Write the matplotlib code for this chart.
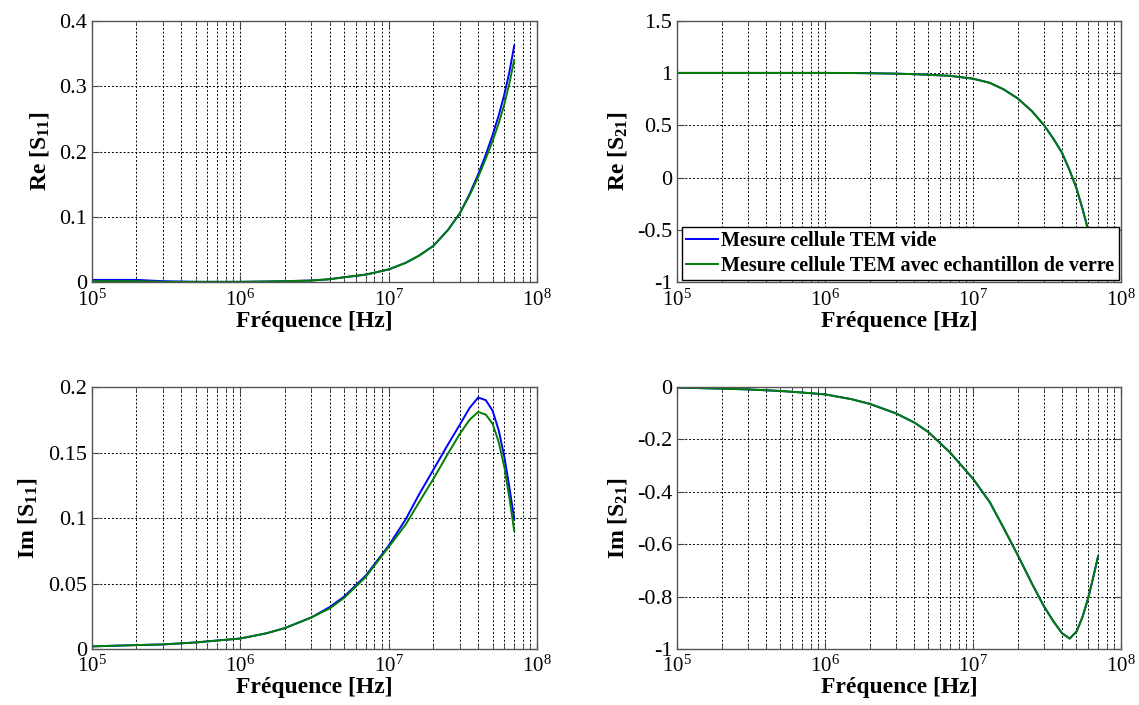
import numpy as np
import matplotlib
matplotlib.use("Agg")
import matplotlib.pyplot as plt
from matplotlib.ticker import LogLocator, NullFormatter

plt.rcParams['font.family'] = ['Liberation Serif', 'DejaVu Serif']
plt.rcParams['mathtext.fontset'] = 'custom'
plt.rcParams['mathtext.rm'] = 'Liberation Serif'
plt.rcParams['mathtext.it'] = 'Liberation Serif:italic'
plt.rcParams['mathtext.bf'] = 'Liberation Serif:bold'

# frequency points (Hz)
freq = [1e5, 2e5, 3e5, 5e5, 7e5, 1e6, 1.5e6, 2e6, 3e6, 4e6, 5e6, 7e6, 1e7,
        1.3e7, 1.6e7, 2e7, 2.5e7, 3e7, 3.5e7, 4e7, 4.5e7, 5e7, 5.5e7, 6e7,
        6.5e7, 7e7]

# Re[S11]
re_s11_vide = [0.004, 0.004, 0.002, 0.001, 0.001, 0.001, 0.0015, 0.002, 0.003,
               0.005, 0.008, 0.012, 0.02, 0.03, 0.041, 0.056, 0.08, 0.105,
               0.135, 0.165, 0.195, 0.225, 0.255, 0.287, 0.322, 0.362]
re_s11_verre = [0.002, 0.002, 0.001, 0.001, 0.001, 0.001, 0.0015, 0.002, 0.003,
                0.005, 0.008, 0.012, 0.02, 0.03, 0.041, 0.056, 0.08, 0.105,
                0.133, 0.161, 0.189, 0.216, 0.243, 0.272, 0.305, 0.34]

# Im[S11]
im_s11_vide = [0.002, 0.003, 0.0035, 0.005, 0.0065, 0.008, 0.012, 0.016, 0.024,
               0.032, 0.04, 0.056, 0.079, 0.099, 0.118, 0.137, 0.156, 0.171,
               0.184, 0.192, 0.19, 0.182, 0.167, 0.147, 0.123, 0.099]
im_s11_verre = [0.002, 0.003, 0.0035, 0.005, 0.0065, 0.008, 0.012, 0.016, 0.024,
                0.031, 0.039, 0.055, 0.078, 0.095, 0.112, 0.13, 0.149, 0.164,
                0.175, 0.181, 0.179, 0.172, 0.158, 0.139, 0.115, 0.09]

# Re[S21]
re_s21_vide = [1.0, 1.0, 1.0, 1.0, 1.0, 1.0, 0.999, 0.997, 0.993, 0.988, 0.982,
               0.972, 0.945, 0.905, 0.845, 0.758, 0.635, 0.506, 0.37, 0.236, 0.07,
               -0.1, -0.3, -0.5, -0.68, -0.85]
re_s21_verre = [1.0, 1.0, 1.0, 1.0, 1.0, 1.0, 0.999, 0.997, 0.993, 0.988, 0.982,
                0.972, 0.945, 0.905, 0.845, 0.758, 0.635, 0.506, 0.37, 0.236, 0.07,
                -0.1, -0.3, -0.5, -0.68, -0.85]

# Im[S21]
im_s21_vide = [-0.002, -0.006, -0.009, -0.015, -0.021, -0.028, -0.046, -0.064,
               -0.1, -0.135, -0.172, -0.25, -0.35, -0.44, -0.535, -0.64, -0.75,
               -0.835, -0.895, -0.94, -0.96, -0.934, -0.877, -0.806, -0.725, -0.646]
im_s21_verre = [-0.002, -0.006, -0.009, -0.015, -0.021, -0.028, -0.046, -0.064,
                -0.1, -0.135, -0.172, -0.25, -0.35, -0.44, -0.535, -0.64, -0.75,
                -0.835, -0.895, -0.94, -0.96, -0.934, -0.877, -0.806, -0.725, -0.646]

label_vide = "Mesure cellule TEM vide"
label_verre = "Mesure cellule TEM avec echantillon de verre"


def style_axis(ax, ylim, yticks, yticklabels, ylabel):
    ax.set_xscale('log')
    ax.set_xlim(1e5, 1e8)
    ax.set_ylim(*ylim)
    ax.set_yticks(yticks)
    ax.set_yticklabels(yticklabels)
    ax.xaxis.set_major_locator(LogLocator(base=10, numticks=10))
    ax.xaxis.set_minor_locator(LogLocator(base=10, subs=np.arange(2, 10), numticks=100))
    ax.xaxis.set_minor_formatter(NullFormatter())
    ax.grid(True, which='major', color='black', linestyle=(0, (2, 2)), linewidth=0.7)
    ax.grid(True, which='minor', axis='x', color='black', linestyle=(0, (2, 2)), linewidth=0.7)
    ax.tick_params(which='both', direction='in', top=True, right=True,
                   color='#444444')
    ax.tick_params(axis='y', labelsize=16)
    ax.tick_params(axis='x', labelsize=15, pad=5)
    ax.tick_params(which='major', length=5)
    ax.tick_params(which='minor', length=3)
    for s in ax.spines.values():
        s.set_color('#555555')
        s.set_linewidth(1.0)
    ax.set_xlabel("Fréquence [Hz]", fontsize=17, fontweight='bold', labelpad=0)
    ax.set_ylabel(ylabel, fontsize=17, fontweight='bold', labelpad=6)


fig = plt.figure(figsize=(11.39, 7.05), dpi=100)
ax1 = fig.add_axes([0.0805, 0.5993, 0.3912, 0.3716])
ax2 = fig.add_axes([0.5944, 0.5993, 0.3898, 0.3716])
ax3 = fig.add_axes([0.0805, 0.0794, 0.3912, 0.3716])
ax4 = fig.add_axes([0.5944, 0.0794, 0.3898, 0.3716])

blue = (0, 0, 1)
green = (0, 0.5, 0)
lw = 1.4

ax1.plot(freq, re_s11_vide, color=blue, lw=lw)
ax1.plot(freq, re_s11_verre, color=green, lw=lw)
style_axis(ax1, (0, 0.4), [0, 0.1, 0.2, 0.3, 0.4], ['0', '0.1', '0.2', '0.3', '0.4'],
           r"Re [S$_{\mathbf{11}}$]")

ax2.plot(freq, re_s21_vide, color=blue, lw=lw, label=label_vide)
ax2.plot(freq, re_s21_verre, color=green, lw=lw, label=label_verre)
style_axis(ax2, (-1, 1.5), [-1, -0.5, 0, 0.5, 1, 1.5], ['-1', '-0.5', '0', '0.5', '1', '1.5'],
           r"Re [S$_{\mathbf{21}}$]")
leg = ax2.legend(loc='lower right', fontsize=14.5, fancybox=False, framealpha=1,
                 edgecolor='black', borderpad=0.2, labelspacing=0.25,
                 handlelength=1.6, handletextpad=0.15, borderaxespad=0.12)
leg.get_frame().set_linewidth(1.0)
for t in leg.get_texts():
    t.set_fontweight('bold')

ax3.plot(freq, im_s11_vide, color=blue, lw=lw)
ax3.plot(freq, im_s11_verre, color=green, lw=lw)
style_axis(ax3, (0, 0.2), [0, 0.05, 0.1, 0.15, 0.2], ['0', '0.05', '0.1', '0.15', '0.2'],
           r"Im [S$_{\mathbf{11}}$]")

ax4.plot(freq, im_s21_vide, color=blue, lw=lw)
ax4.plot(freq, im_s21_verre, color=green, lw=lw)
style_axis(ax4, (-1, 0), [-1, -0.8, -0.6, -0.4, -0.2, 0],
           ['-1', '-0.8', '-0.6', '-0.4', '-0.2', '0'],
           r"Im [S$_{\mathbf{21}}$]")

fig.savefig("out.png", dpi=100)
